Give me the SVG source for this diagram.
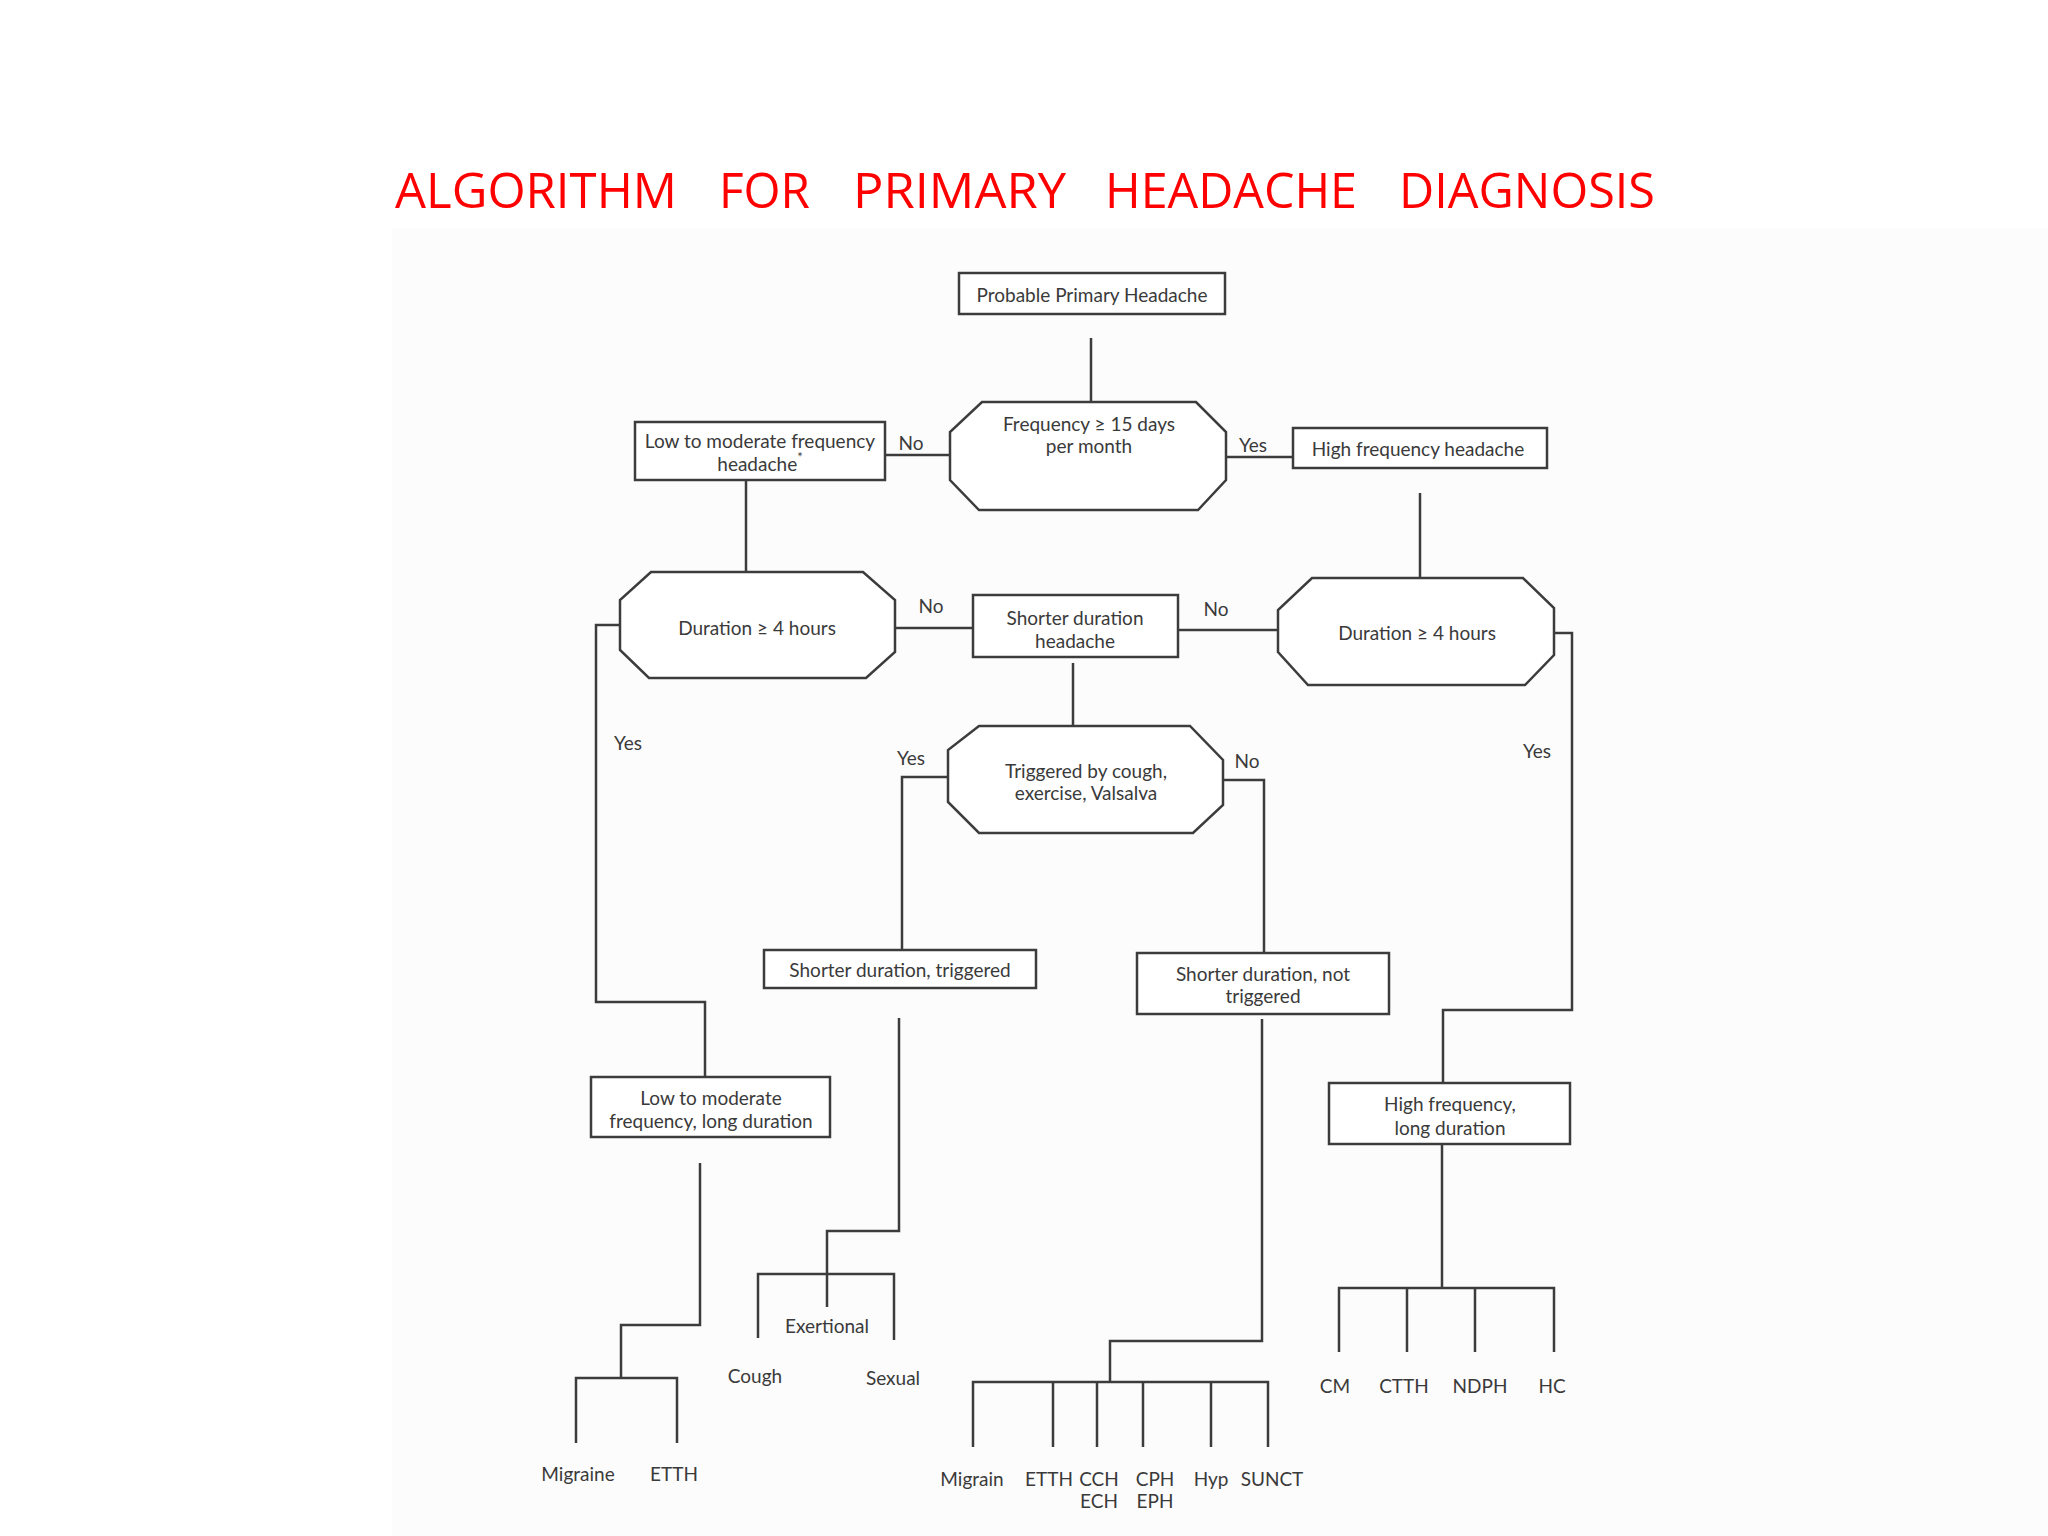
<svg xmlns="http://www.w3.org/2000/svg" width="2048" height="1536" viewBox="0 0 2048 1536">
<style>
.bg{fill:#ffffff}
.scan{fill:#fcfcfc}
.title{font-family:"Open Sans","Liberation Sans",sans-serif;font-size:49px;fill:#ff0000}
.box{fill:#ffffff;stroke:#3c3c3c;stroke-width:2.5}
.t{font-family:Lato,"Open Sans","DejaVu Sans",sans-serif;font-size:19px;fill:#3a3a3a;text-anchor:middle;dominant-baseline:central}
.lbl{font-family:Lato,"Open Sans","DejaVu Sans",sans-serif;font-size:19px;fill:#3a3a3a;text-anchor:middle;dominant-baseline:central}
.c{fill:none;stroke:#3c3c3c;stroke-width:2.5}
</style>
<rect class="bg" x="0" y="0" width="2048" height="1536"/>
<rect class="scan" x="392" y="228" width="1656" height="1308"/>
<g id="title">
<text class="title" x="395" y="208" textLength="282" lengthAdjust="spacingAndGlyphs">ALGORITHM</text>
<text class="title" x="719" y="208" textLength="91" lengthAdjust="spacingAndGlyphs">FOR</text>
<text class="title" x="853" y="208" textLength="213" lengthAdjust="spacingAndGlyphs">PRIMARY</text>
<text class="title" x="1105" y="208" textLength="252" lengthAdjust="spacingAndGlyphs">HEADACHE</text>
<text class="title" x="1399" y="208" textLength="256" lengthAdjust="spacingAndGlyphs">DIAGNOSIS</text>
</g>
<g id="connectors">
<path class="c" d="M1091,338 V402"/>
<path class="c" d="M885,455 H950"/>
<path class="c" d="M1226,457 H1293"/>
<path class="c" d="M746,481 V572"/>
<path class="c" d="M1420,493 V578"/>
<path class="c" d="M620,625 H596 V1002 H705 V1077"/>
<path class="c" d="M895,628 H973"/>
<path class="c" d="M1178,630 H1278"/>
<path class="c" d="M1554,633 H1572 V1010 H1443 V1083"/>
<path class="c" d="M1073,663 V726"/>
<path class="c" d="M948,777 H902 V950"/>
<path class="c" d="M1223,780 H1264 V953"/>
<path class="c" d="M700,1163 V1325 H621 V1378"/>
<path class="c" d="M576,1443 V1378 H677 V1443"/>
<path class="c" d="M899,1018 V1231 H827 V1307"/>
<path class="c" d="M758,1338 V1274 H894 V1340"/>
<path class="c" d="M1262,1019 V1341 H1110 V1382"/>
<path class="c" d="M973,1447 V1382 H1268 V1447 M1053,1382 V1447 M1097,1382 V1447 M1143,1382 V1447 M1211,1382 V1447"/>
<path class="c" d="M1442,1145 V1288"/>
<path class="c" d="M1339,1352 V1288 H1554 V1352 M1407,1288 V1352 M1475,1288 V1352"/>
<text class="lbl" x="911" y="442">No</text>
<text class="lbl" x="1253" y="444">Yes</text>
<text class="lbl" x="931" y="605">No</text>
<text class="lbl" x="1216" y="608">No</text>
<text class="lbl" x="628" y="742">Yes</text>
<text class="lbl" x="911" y="757">Yes</text>
<text class="lbl" x="1247" y="760">No</text>
<text class="lbl" x="1537" y="750">Yes</text>
</g>
<g id="probable">
<rect class="box" x="959" y="273" width="266" height="41"/>
<text class="t" x="1092" y="294">Probable Primary Headache</text>
</g>
<g id="frequency">
<polygon class="box" points="982,402 1196,402 1226,432 1226,480 1198,510 979,510 950,480 950,432"/>
<text class="t" x="1089" y="423">Frequency ≥ 15 days</text>
<text class="t" x="1089" y="445">per month</text>
</g>
<g id="low-moderate">
<rect class="box" x="635" y="422" width="250" height="58"/>
<text class="t" x="760" y="440">Low to moderate frequency</text>
<text class="t" x="760" y="463">headache<tspan font-size="13" dy="-6">*</tspan></text>
</g>
<g id="high-frequency">
<rect class="box" x="1293" y="428" width="254" height="40"/>
<text class="t" x="1418" y="448">High frequency headache</text>
</g>
<g id="duration-left">
<polygon class="box" points="651,572 863,572 895,600 895,652 866,678 649,678 620,650 620,600"/>
<text class="t" x="757" y="627">Duration ≥ 4 hours</text>
</g>
<g id="shorter-duration">
<rect class="box" x="973" y="595" width="205" height="62"/>
<text class="t" x="1075" y="617">Shorter duration</text>
<text class="t" x="1075" y="640">headache</text>
</g>
<g id="duration-right">
<polygon class="box" points="1312,578 1523,578 1554,608 1554,655 1525,685 1308,685 1278,652 1278,610"/>
<text class="t" x="1417" y="632">Duration ≥ 4 hours</text>
</g>
<g id="triggered">
<polygon class="box" points="979,726 1190,726 1223,760 1223,805 1193,833 979,833 948,802 948,750"/>
<text class="t" x="1086" y="770">Triggered by cough,</text>
<text class="t" x="1086" y="792">exercise, Valsalva</text>
</g>
<g id="shorter-triggered">
<rect class="box" x="764" y="950" width="272" height="38"/>
<text class="t" x="900" y="969">Shorter duration, triggered</text>
</g>
<g id="shorter-not-triggered">
<rect class="box" x="1137" y="953" width="252" height="61"/>
<text class="t" x="1263" y="973">Shorter duration, not</text>
<text class="t" x="1263" y="995">triggered</text>
</g>
<g id="low-long">
<rect class="box" x="591" y="1077" width="239" height="60"/>
<text class="t" x="711" y="1097">Low to moderate</text>
<text class="t" x="711" y="1120">frequency, long duration</text>
</g>
<g id="high-long">
<rect class="box" x="1329" y="1083" width="241" height="61"/>
<text class="t" x="1450" y="1103">High frequency,</text>
<text class="t" x="1450" y="1127">long duration</text>
</g>
<g id="leaves-low">
<text class="t" x="578" y="1473">Migraine</text>
<text class="t" x="674" y="1473">ETTH</text>
</g>
<g id="leaves-triggered">
<text class="t" x="827" y="1325">Exertional</text>
<text class="t" x="755" y="1375">Cough</text>
<text class="t" x="893" y="1377">Sexual</text>
</g>
<g id="leaves-not-triggered">
<text class="t" x="972" y="1478">Migrain</text>
<text class="t" x="1049" y="1478">ETTH</text>
<text class="t" x="1099" y="1478">CCH</text>
<text class="t" x="1155" y="1478">CPH</text>
<text class="t" x="1211" y="1478">Hyp</text>
<text class="t" x="1272" y="1478">SUNCT</text>
<text class="t" x="1099" y="1500">ECH</text>
<text class="t" x="1155" y="1500">EPH</text>
</g>
<g id="leaves-high">
<text class="t" x="1335" y="1385">CM</text>
<text class="t" x="1404" y="1385">CTTH</text>
<text class="t" x="1480" y="1385">NDPH</text>
<text class="t" x="1552" y="1385">HC</text>
</g>
</svg>
